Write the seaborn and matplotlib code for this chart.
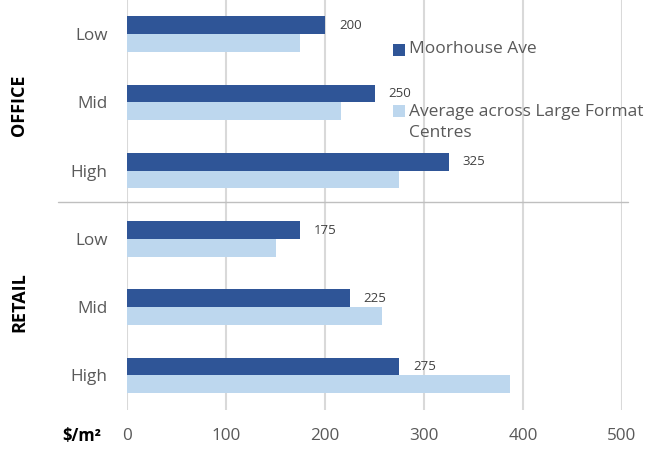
import matplotlib
matplotlib.use("Agg")
import matplotlib.pyplot as plt
import seaborn as sns
import pandas as pd
from matplotlib.patches import Rectangle
from matplotlib.lines import Line2D
from matplotlib.transforms import blended_transform_factory

# ---- data ----
segments = ["OFFICE", "OFFICE", "OFFICE", "RETAIL", "RETAIL", "RETAIL"]
levels = ["Low", "Mid", "High", "Low", "Mid", "High"]
series_names = ["Moorhouse Ave", "Average across Large Format Centres"]
moorhouse = [200, 250, 325, 175, 225, 275]
lfc_average = [175, 216, 275, 150, 258, 387]
x_ticks = [0, 100, 200, 300, 400, 500]

dark = "#2F5597"
light = "#BDD7EE"
grey_text = "#595959"

sns.set_theme(style="white")
plt.rcParams["font.family"] = ["Open Sans", "DejaVu Sans"]

rows = [f"{s} {l}" for s, l in zip(segments, levels)]
df = pd.DataFrame({
    "row": rows * 2,
    "value": moorhouse + lfc_average,
    "series": [series_names[0]] * len(rows) + [series_names[1]] * len(rows),
})

W, H = 646, 450
fig = plt.figure(figsize=(W / 100, H / 100), dpi=100)
ax = fig.add_axes([127 / W, 1 - 409.5 / H, 495 / W, 409.5 / H])

sns.barplot(data=df, y="row", x="value", hue="series", order=rows,
            hue_order=series_names, palette=[dark, light], width=0.52,
            orient="h", saturation=1, linewidth=0, legend=False, ax=ax)

ax.set_xlim(0, 500)
ax.set_xticks(x_ticks)
ax.set_xticklabels([str(t) for t in x_ticks])
ax.set_yticks(range(len(rows)))
ax.set_yticklabels(levels)
ax.set_xlabel("")
ax.set_ylabel("")
ax.grid(axis="x", color="#d9d9d9", lw=1.5)
ax.grid(axis="y", visible=False)
ax.set_axisbelow(True)
for sp in ax.spines.values():
    sp.set_visible(False)
ax.tick_params(axis="y", length=0, pad=14, labelsize=12.3, labelcolor=grey_text)
ax.tick_params(axis="x", length=0, pad=13, labelsize=12.3, labelcolor=grey_text)

# value labels on the Moorhouse Ave bars
ax.bar_label(ax.containers[0], padding=10, fontsize=9.5, color="#404040")

# separator between OFFICE and RETAIL groups
trans = blended_transform_factory(fig.transFigure, ax.transData)
fig.add_artist(Line2D([58 / W, 628 / W], [2.46, 2.46], transform=trans,
                      color="#bfbfbf", lw=1))

# group labels
fig.text(19 / W, 1 - 105 / H, "OFFICE", rotation=90, fontweight="bold",
         fontsize=13, ha="center", va="center", color="black")
fig.text(19 / W, 1 - 302 / H, "RETAIL", rotation=90, fontweight="bold",
         fontsize=13, ha="center", va="center", color="black")
fig.text(82 / W, 1 - 436 / H, "$/m²", fontweight="bold", fontsize=12,
         ha="center", va="center", color="black")

# legend
fig.add_artist(Rectangle((393 / W, 1 - 55.5 / H), 12 / W, 11 / H,
                         transform=fig.transFigure, color=dark, lw=0))
fig.text(409 / W, 1 - 49 / H, series_names[0], fontsize=12.5,
         ha="left", va="center", color=grey_text)
fig.add_artist(Rectangle((393 / W, 1 - 116.5 / H), 12 / W, 11 / H,
                         transform=fig.transFigure, color=light, lw=0))
fig.text(409 / W, 1 - 122.25 / H, "Average across Large Format\nCentres",
         fontsize=12.5, ha="left", va="center", color=grey_text, linespacing=1.4)

fig.savefig("out.png", dpi=100)
